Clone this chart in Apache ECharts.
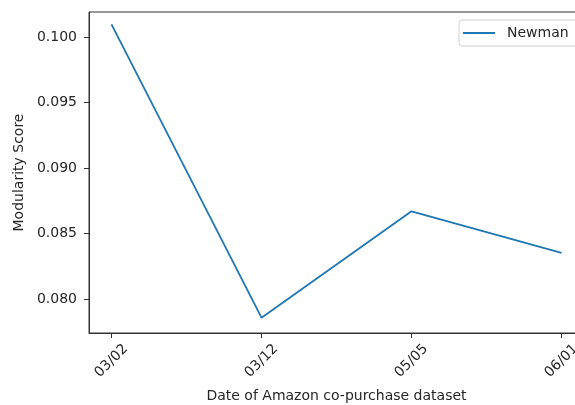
<!DOCTYPE html>
<html>
<head>
<meta charset="utf-8">
<script src="https://cdn.jsdelivr.net/npm/echarts@6/dist/echarts.min.js"></script>
<style>
html,body{margin:0;padding:0;background:#fff;}
#chart{width:575px;height:405px;}
</style>
</head>
<body>
<div id="chart"></div>
<script>
const categories = ['03/02', '03/12', '05/05', '06/01'];
const newmanValues = [0.10098, 0.07857, 0.08670, 0.08352];
const yTicks = [0.080, 0.085, 0.090, 0.095, 0.100];

const textColor = '#262626';
const font = 'DejaVu Sans';
const fs = 14;

const chart = echarts.init(document.getElementById('chart'), null, {renderer: 'canvas'});
chart.setOption({
  backgroundColor: '#fff',
  animation: false,
  grid: {
    left: 89, top: 12, width: 495, height: 321,
    show: true, borderColor: '#333', borderWidth: 1,
    outerBoundsMode: 'none', containLabel: false
  },
  legend: {
    data: [{name: 'Newman', icon: 'rect'}],
    left: 459, top: 20,
    orient: 'vertical',
    padding: [5, 20, 5, 4],
    itemWidth: 32, itemHeight: 2, itemGap: 4,
    borderColor: '#d0d0d0', borderWidth: 1, borderRadius: 3,
    backgroundColor: '#fff',
    textStyle: {fontFamily: font, fontSize: fs, color: textColor, padding: [0, 0, 0, 7], lineHeight: 16}
  },
  xAxis: {
    type: 'value',
    min: -0.15, max: 3.15,
    name: 'Date of Amazon co-purchase dataset',
    nameLocation: 'middle', nameGap: 56,
    nameTextStyle: {fontFamily: font, fontSize: fs, color: textColor},
    splitLine: {show: false},
    axisLine: {show: true, onZero: false, lineStyle: {color: '#333', width: 1}},
    axisTick: {show: true, length: 5, lineStyle: {color: '#333'}, customValues: [0, 1, 2, 3]},
    axisLabel: {
      customValues: [0, 1, 2, 3],
      rotate: 45, align: 'center', verticalAlign: 'middle', margin: 28,
      fontFamily: font, fontSize: fs, color: textColor,
      formatter: v => categories[Math.round(v)]
    }
  },
  yAxis: {
    type: 'value',
    min: 0.0774, max: 0.10193,
    name: 'Modularity Score',
    nameLocation: 'middle', nameGap: 61,
    nameTextStyle: {fontFamily: font, fontSize: fs, color: textColor},
    splitLine: {show: false},
    axisLine: {show: true, onZero: false, lineStyle: {color: '#333', width: 1}},
    axisTick: {show: true, length: 5, lineStyle: {color: '#333'}, customValues: yTicks},
    axisLabel: {
      customValues: yTicks,
      margin: 12,
      fontFamily: font, fontSize: fs, color: textColor,
      formatter: v => v.toFixed(3)
    }
  },
  series: [{
    name: 'Newman',
    type: 'line',
    data: newmanValues.map((v, i) => [i, v]),
    symbol: 'none',
    lineStyle: {color: '#1f77b4', width: 1.8},
    itemStyle: {color: '#1f77b4'}
  }]
});
</script>
</body>
</html>
